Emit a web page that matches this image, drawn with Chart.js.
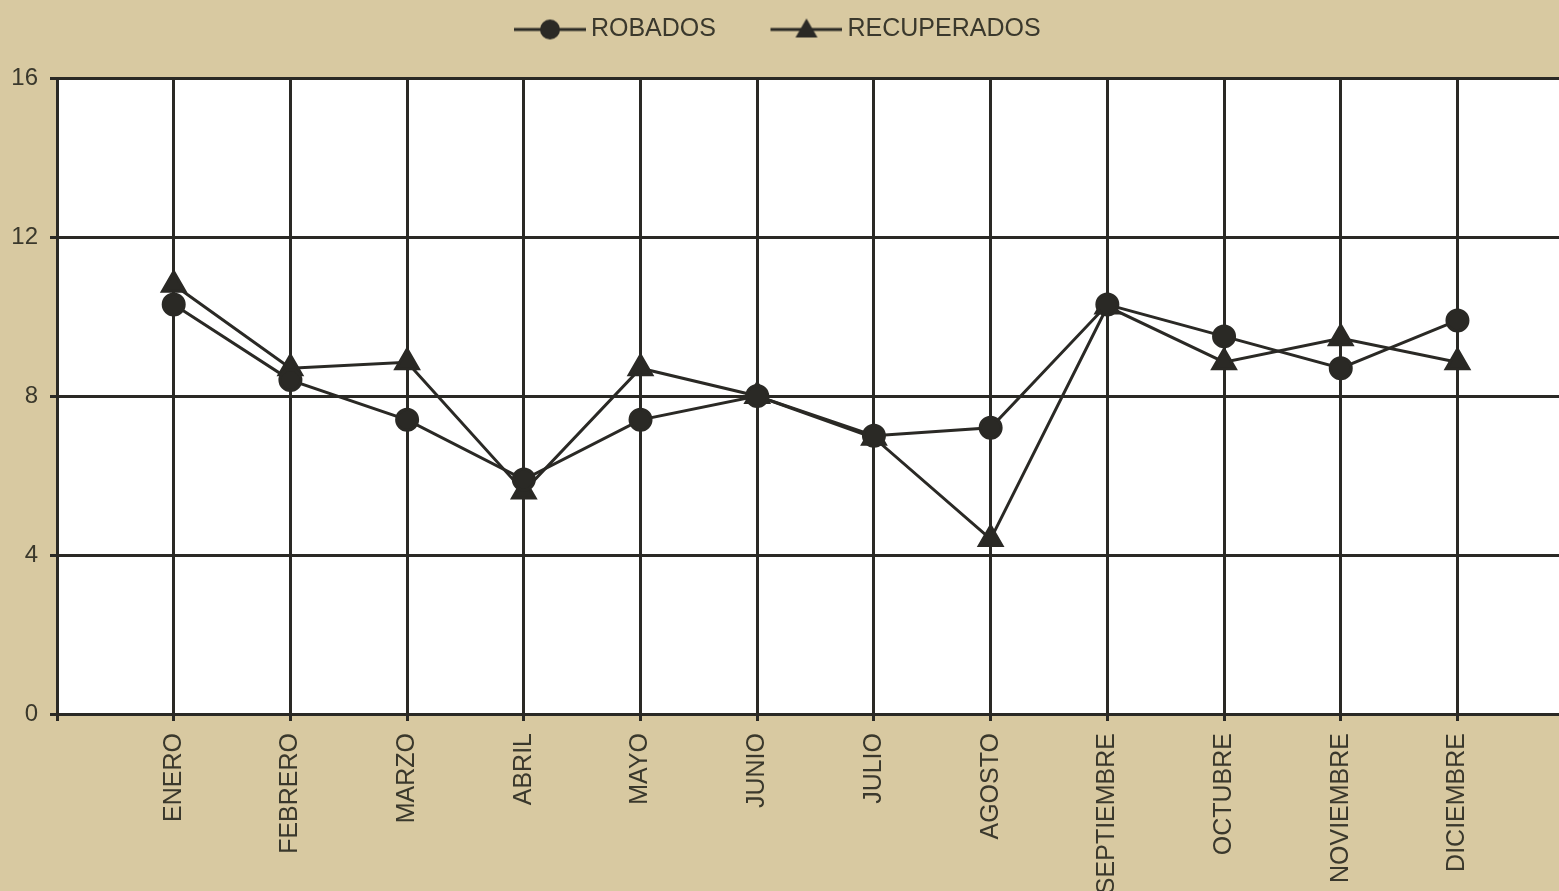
<!DOCTYPE html>
<html>
<head>
<meta charset="utf-8">
<script src="https://cdn.jsdelivr.net/npm/chart.js@4.4.0/dist/chart.umd.min.js"></script>
<style>
    html, body { margin: 0; padding: 0; background: #d8c9a1; overflow: hidden; }
    #caja { width: 1559px; height: 891px; position: relative; }
</style>
</head>
<body>
<div id="caja"><canvas id="grafico"></canvas></div>
<script>
var meses = ['ENERO', 'FEBRERO', 'MARZO', 'ABRIL', 'MAYO', 'JUNIO', 'JULIO', 'AGOSTO', 'SEPTIEMBRE', 'OCTUBRE', 'NOVIEMBRE', 'DICIEMBRE']
var robados = [10.3, 8.4, 7.4, 5.9, 7.4, 8.0, 7.0, 7.2, 10.3, 9.5, 8.7, 9.9]
var recuperados = [10.8, 8.7, 8.85, 5.6, 8.7, 8.0, 6.95, 4.4, 10.25, 8.85, 9.45, 8.85]
var ticksY = [0, 4, 8, 12, 16]

var tinta = '#2a2925'
var fondo = '#d8c9a1'
var colorTexto = '#3a382c'
var fuente = "'Liberation Sans', Arial, sans-serif"

// icono de leyenda: linea con el marcador en medio
function icono(tipo) {
    var c = document.createElement('canvas')
    c.width = 117
    c.height = 26
    var ctx = c.getContext('2d')
    ctx.strokeStyle = tinta
    ctx.fillStyle = tinta
    ctx.lineWidth = 3
    ctx.beginPath()
    ctx.moveTo(45, 13)
    ctx.lineTo(117, 13)
    ctx.stroke()
    var cx = 81
    ctx.beginPath()
    if (tipo == 'circle') {
        ctx.arc(cx, 13, 10, 0, Math.PI * 2)
    } else {
        ctx.moveTo(cx, 2)
        ctx.lineTo(cx + 11, 21)
        ctx.lineTo(cx - 11, 21)
        ctx.closePath()
    }
    ctx.fill()
    return c
}
var iconos = [icono('circle'), icono('triangle')]

function puntos(serie) {
    return serie.map(function (v, i) { return { x: i + 1, y: v } })
}

var fondoPlugin = {
    id: 'fondo',
    beforeDraw: function (chart) {
        var ctx = chart.ctx
        var a = chart.chartArea
        ctx.save()
        ctx.fillStyle = fondo
        ctx.fillRect(0, 0, chart.width, chart.height)
        ctx.fillStyle = '#ffffff'
        ctx.fillRect(a.left, a.top, a.right - a.left, a.bottom - a.top)
        ctx.restore()
    }
}

var leyendaPlugin = {
    id: 'leyendaAlto',
    beforeInit: function (chart) {
        var fit = chart.legend.fit
        chart.legend.fit = function () {
            fit.bind(chart.legend)()
            this.height = 78
        }
    },
    afterLayout: function (chart) {
        chart.legend.left -= 21
        chart.legend.right -= 21
    }
}

const config = {
    type: 'line',
    data: {
        datasets: [{
            label: 'ROBADOS',
            data: puntos(robados),
            borderColor: tinta,
            backgroundColor: tinta,
            borderWidth: 3,
            pointStyle: 'circle',
            pointRadius: 10.5,
            pointHoverRadius: 10.5,
            tension: 0
        }, {
            label: 'RECUPERADOS',
            data: puntos(recuperados),
            borderColor: tinta,
            backgroundColor: tinta,
            borderWidth: 3,
            pointStyle: 'triangle',
            pointRadius: 13,
            pointHoverRadius: 13,
            tension: 0
        }]
    },
    options: {
        responsive: true,
        maintainAspectRatio: false,
        animation: false,
        layout: { padding: 0, autoPadding: false },
        plugins: {
            tooltip: { enabled: false },
            legend: {
                position: 'top',
                labels: {
                    usePointStyle: true,
                    pointStyleWidth: 102,
                    padding: 17,
                    color: colorTexto,
                    font: { family: fuente, size: 25 },
                    generateLabels: function (chart) {
                        var items = Chart.defaults.plugins.legend.labels.generateLabels(chart)
                        items.forEach(function (it, i) { it.pointStyle = iconos[i] })
                        return items
                    }
                }
            }
        },
        scales: {
            x: {
                type: 'linear',
                min: 0,
                max: meses.length + 0.87,
                afterBuildTicks: function (s) {
                    s.ticks = [0].concat(meses.map(function (m, i) { return i + 1 })).map(function (v) { return { value: v } })
                },
                afterFit: function (s) {
                    s.height = 177
                    s.paddingLeft = 0
                    s.paddingRight = 0
                },
                grid: { color: tinta, lineWidth: 3, tickLength: 7, drawTicks: true },
                border: { color: tinta, width: 3 },
                ticks: {
                    autoSkip: false,
                    maxRotation: 90,
                    minRotation: 90,
                    padding: 12,
                    color: colorTexto,
                    font: { family: fuente, size: 25 },
                    callback: function (v) { return meses[v - 1] || '' }
                }
            },
            y: {
                min: 0,
                max: 16,
                afterBuildTicks: function (s) {
                    s.ticks = ticksY.map(function (v) { return { value: v } })
                },
                afterFit: function (s) { s.width = 57 },
                grid: { color: tinta, lineWidth: 3, tickLength: 7 },
                border: { color: tinta, width: 3 },
                ticks: {
                    padding: 12,
                    color: colorTexto,
                    font: { family: fuente, size: 24 }
                }
            }
        }
    },
    plugins: [fondoPlugin, leyendaPlugin]
}

const grafico = new Chart(document.getElementById('grafico'), config)
</script>
</body>
</html>
